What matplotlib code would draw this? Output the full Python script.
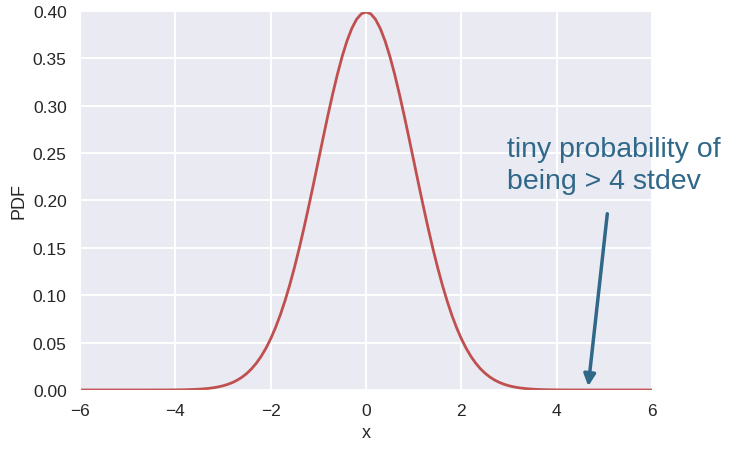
import matplotlib
matplotlib.use("Agg")
import matplotlib.pyplot as plt
import seaborn as sns

# ---- data (standard normal PDF, step 0.1 on x) ----
x_vals = [round(-6.0 + 0.1 * i, 1) for i in range(121)]
left_half = [0.0, 0.0, 0.0, 0.0, 0.0, 0.0, 0.0, 0.0, 0.0, 0.0, 0.0, 0.0, 0.0,
             0.00001, 0.00001, 0.00002, 0.00003, 0.00004, 0.00006, 0.00009,
             0.00013, 0.00020, 0.00029, 0.00042, 0.00061, 0.00087, 0.00123, 0.00172, 0.00238, 0.00327,
             0.00443, 0.00595, 0.00792, 0.01042, 0.01358, 0.01753, 0.02239, 0.02833, 0.03547, 0.04398,
             0.05399, 0.06562, 0.07895, 0.09405, 0.11092, 0.12952, 0.14973, 0.17137, 0.19419, 0.21785,
             0.24197, 0.26609, 0.28969, 0.31225, 0.33322, 0.35207, 0.36827, 0.38139, 0.39104, 0.39695]
peak = [0.39894]
right_half = [0.39695, 0.39104, 0.38139, 0.36827, 0.35207, 0.33322, 0.31225, 0.28969, 0.26609, 0.24197,
              0.21785, 0.19419, 0.17137, 0.14973, 0.12952, 0.11092, 0.09405, 0.07895, 0.06562, 0.05399,
              0.04398, 0.03547, 0.02833, 0.02239, 0.01753, 0.01358, 0.01042, 0.00792, 0.00595, 0.00443,
              0.00327, 0.00238, 0.00172, 0.00123, 0.00087, 0.00061, 0.00042, 0.00029, 0.00020, 0.00013,
              0.00009, 0.00006, 0.00004, 0.00003, 0.00002, 0.00001, 0.00001,
              0.0, 0.0, 0.0, 0.0, 0.0, 0.0, 0.0, 0.0, 0.0, 0.0, 0.0, 0.0, 0.0]
pdf_vals = left_half + peak + right_half

x_ticks = [-6, -4, -2, 0, 2, 4, 6]
y_ticks = [0.00, 0.05, 0.10, 0.15, 0.20, 0.25, 0.30, 0.35, 0.40]

note_text = "tiny probability of\nbeing > 4 stdev"
arrow_tip = (4.66, 0.004)
arrow_tail = (5.06, 0.186)

# ---- style ----
sns.set_style("darkgrid")
plt.rcParams['font.family'] = ['Liberation Sans', 'DejaVu Sans']

fig = plt.figure(figsize=(7.47, 4.60), dpi=100)
ax = fig.add_axes([0.107, 0.150, 0.766, 0.824])

ax.plot(x_vals, pdf_vals, color="#c0504f", lw=2.0)

ax.set_xlim(-6, 6)
ax.set_ylim(0, 0.40)
ax.set_xticks(x_ticks)
ax.set_yticks(y_ticks)
ax.set_xticklabels([f"\u2212{abs(t)}" if t < 0 else str(t) for t in x_ticks])
ax.set_yticklabels([f"{t:.2f}" for t in y_ticks])
ax.tick_params(labelsize=12.5, pad=6)
ax.grid(color="white", lw=1.4)
ax.set_xlabel("x", fontsize=13)
ax.set_ylabel("PDF", fontsize=13)

note_col = "#30688a"
ax.annotate("", xy=arrow_tip, xytext=arrow_tail,
            arrowprops=dict(arrowstyle="-|>,head_length=0.7,head_width=0.35",
                            color=note_col, lw=2.5, shrinkA=0, shrinkB=0),
            annotation_clip=False)
ax.text(2.95, 0.268, note_text, color=note_col, fontsize=20.5,
        va="top", ha="left", linespacing=1.28, clip_on=False)

fig.savefig("out.png", dpi=100)
